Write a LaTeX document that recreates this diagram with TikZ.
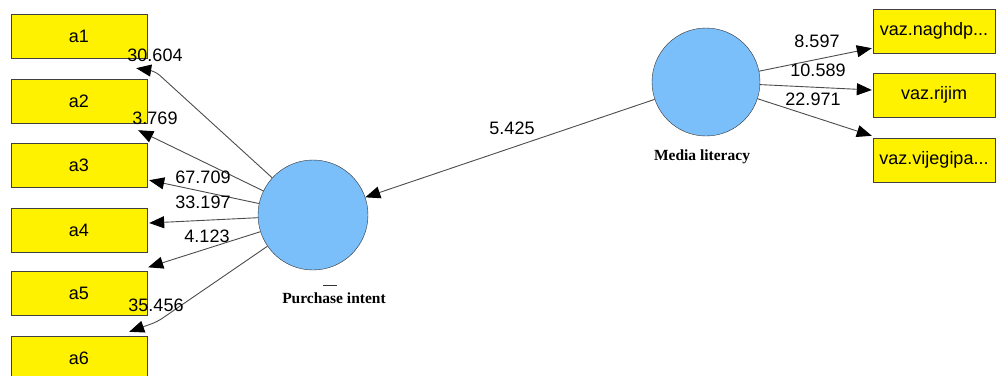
\documentclass[tikz,border=0pt]{standalone}
\usepackage{fontspec}
\setmainfont{Liberation Sans}
\newfontfamily\serifbf{Liberation Serif}
\usetikzlibrary{arrows.meta}
\definecolor{latblue}{RGB}{122,190,250}
\begin{document}
\begin{tikzpicture}[x=1pt,y=-1pt,
  ind/.style={draw=black!75,fill=yellow,minimum width=136pt,minimum height=44pt,inner sep=0pt,font=\fontsize{18}{20}\selectfont},
  lat/.style={circle,draw=black!80,fill=latblue,minimum size=110pt,inner sep=0pt},
  load/.style={draw=black!70,line width=0.9pt,-{Triangle[length=15pt,width=12pt,color=black]}},
  coef/.style={inner sep=0pt,font=\fontsize{18}{20}\selectfont},
  lbl/.style={inner sep=0pt,font=\serifbf\bfseries\fontsize{15.5}{17}\selectfont}]
\useasboundingbox (0,0) rectangle (996,375);
\clip (0,0) rectangle (996,375);
\node[ind] (a1) at (79,36)    {a1};
\node[ind] (a2) at (79,101)   {a2};
\node[ind] (a3) at (79,165)   {a3};
\node[ind] (a4) at (79,230)   {a4};
\node[ind] (a5) at (79,293.5) {a5};
\node[ind] (a6) at (79,358)   {a6};
\node[ind,minimum width=122pt] (n1) at (934,31)  {vaz.naghdp...};
\node[ind,minimum width=122pt] (n2) at (934,95)  {vaz.rijim};
\node[ind,minimum width=122pt] (n3) at (934,160) {vaz.vijegipa...};
\node[lat] (pi) at (313,215) {};
\node[lat,minimum size=108pt] (ml) at (706,82) {};
\node[lbl] (pil) at (334,298) {Purchase intent};
\node[lbl] (mll) at (702,157) {Media literacy};
\draw[black!80] (323,285) -- (337,285);
\draw[load,rounded corners=6pt] (pi) -- ([shift={(8,13)}]a1.south east) -- ([shift={(-11,10)}]a1.south east);
\draw[load] (pi) -- ([shift={(-9,7)}]a2.south east);
\draw[load] (pi) -- ([shift={(2,-7)}]a3.south east);
\draw[load] (pi) -- ([shift={(2,-7)}]a4.east);
\draw[load] (pi) -- ([shift={(1,-4)}]a5.north east);
\draw[load,rounded corners=6pt] (pi) -- ([shift={(10,-14)}]a6.north east) -- ([shift={(-18,-4)}]a6.north east);
\draw[load] (ml) -- (pi);
\draw[load] (ml) -- ([shift={(-1,-5)}]n1.south west);
\draw[load] (ml) -- ([shift={(-1,-5)}]n2.west);
\draw[load] (ml) -- ([shift={(-1,-2)}]n3.north west);
\node[coef] at (155,55)  {30.604};
\node[coef] at (155,118) {3.769};
\node[coef] at (203,177) {67.709};
\node[coef] at (203,202) {33.197};
\node[coef] at (207,236) {4.123};
\node[coef] at (156,305) {35.456};
\node[coef] at (512,128) {5.425};
\node[coef] at (817,41)  {8.597};
\node[coef] at (818,70)  {10.589};
\node[coef] at (813,99)  {22.971};
\end{tikzpicture}
\end{document}
